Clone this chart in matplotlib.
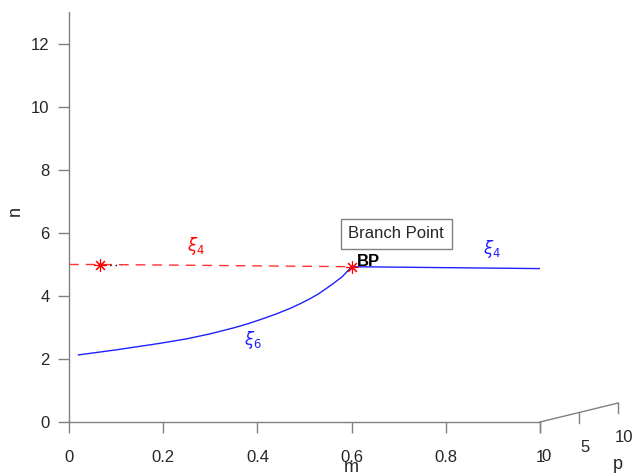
import matplotlib.pyplot as plt
import numpy as np

plt.rcParams['font.family'] = ['Liberation Sans', 'DejaVu Sans']

# branch xi_6 (blue, solid) from m ~ 0 up to the branch point
xi6_m = [0.02, 0.1, 0.19, 0.25, 0.3, 0.35, 0.38, 0.41, 0.44, 0.47, 0.49,
         0.51, 0.53, 0.555, 0.58, 0.6]
xi6_n = [2.13, 2.29, 2.49, 2.64, 2.8, 2.99, 3.12, 3.27, 3.43, 3.61, 3.75,
         3.9, 4.07, 4.33, 4.61, 4.93]

# branch xi_4 (red, dashed) before the branch point
xi4_red_m = [0.0, 0.07, 0.3, 0.6]
xi4_red_n = [5.0, 5.0, 4.97, 4.93]

# branch xi_4 (blue, solid) after the branch point
xi4_blue_m = [0.6, 0.8, 1.0]
xi4_blue_n = [4.93, 4.9, 4.87]

start_pt = (0.066, 5.0)
bp_pt = (0.6, 4.93)

m_ticks = [0, 0.2, 0.4, 0.6, 0.8, 1]
n_ticks = [0, 2, 4, 6, 8, 10, 12]
p_ticks = [0, 5, 10]

axcol = '#808080'
txtcol = '#262626'
blue = '#2020ff'

fig = plt.figure(figsize=(6.4, 4.76), dpi=100)
ax = fig.add_axes([69/640, 54/476, 471/640, 409.5/476])

ax.plot(xi4_red_m, xi4_red_n, color='#ff3333', lw=1, dashes=(7, 5))
ax.plot([0.075, 0.11], [5.0, 5.0], color='black', lw=1, dashes=(1, 3))
ax.plot(xi6_m, xi6_n, color=blue, lw=1)
ax.plot(xi4_blue_m, xi4_blue_n, color=blue, lw=1)
ax.plot(*start_pt, marker=(8, 2, 0), color='red', ms=9, mew=0.8, ls='none')
ax.plot(*bp_pt, marker=(8, 2, 0), color='red', ms=9, mew=0.8, ls='none')

ax.set_xlim(0, 1)
ax.set_ylim(0, 13)
ax.set_xticks(m_ticks)
ax.set_xticklabels(['0', '0.2', '0.4', '0.6', '0.8', '1'])
ax.set_yticks(n_ticks)
for s in ['top', 'right']:
    ax.spines[s].set_visible(False)
for s in ['left', 'bottom']:
    ax.spines[s].set_color(axcol)
    ax.spines[s].set_linewidth(1)
ax.tick_params(direction='out', length=8, width=1, color=axcol,
               labelcolor=txtcol, labelsize=12, pad=6)
ax.tick_params(axis='x', pad=12)

ax.text(-0.115, 6.7, 'n', fontsize=13, color=txtcol, rotation=90,
        ha='center', va='center', clip_on=False)
ax.text(0.6, -1.45, 'm', fontsize=13, color=txtcol, ha='center', va='center',
        clip_on=False)

# p axis (depth), projected to the lower right
def p_proj(p):
    return 1 + p * 0.0166, p * 0.0603

p0 = p_proj(0)
p1 = p_proj(10)
ax.plot([p0[0], p1[0]], [p0[1], p1[1]], color=axcol, lw=1, clip_on=False)
for p in p_ticks:
    x, y = p_proj(p)
    ax.plot([x, x], [y, y - 0.32], color=axcol, lw=1, clip_on=False)
    ax.text(x + 0.012, y - 1.1, str(p), fontsize=12, color=txtcol,
            ha='center', va='center', clip_on=False)
ax.text(1.165, -1.35, 'p', fontsize=13, color=txtcol, ha='center',
        va='center', clip_on=False)

# labels
ax.text(0.27, 5.6, r'$\xi_4$', color='red', fontsize=12, ha='center', va='center')
ax.text(0.898, 5.5, r'$\xi_4$', color=blue, fontsize=12, ha='center', va='center')
ax.text(0.39, 2.6, r'$\xi_6$', color=blue, fontsize=12, ha='center', va='center')
ax.text(0.612, 5.08, 'BP', fontsize=12, fontweight='bold', color='black',
        ha='left', va='center')
ax.text(0.695, 5.97, 'Branch Point', fontsize=12, color=txtcol, ha='center',
        va='center', bbox=dict(boxstyle='square,pad=0.45', fc='white',
                               ec=axcol, lw=1))

fig.savefig('out.png', dpi=100)
